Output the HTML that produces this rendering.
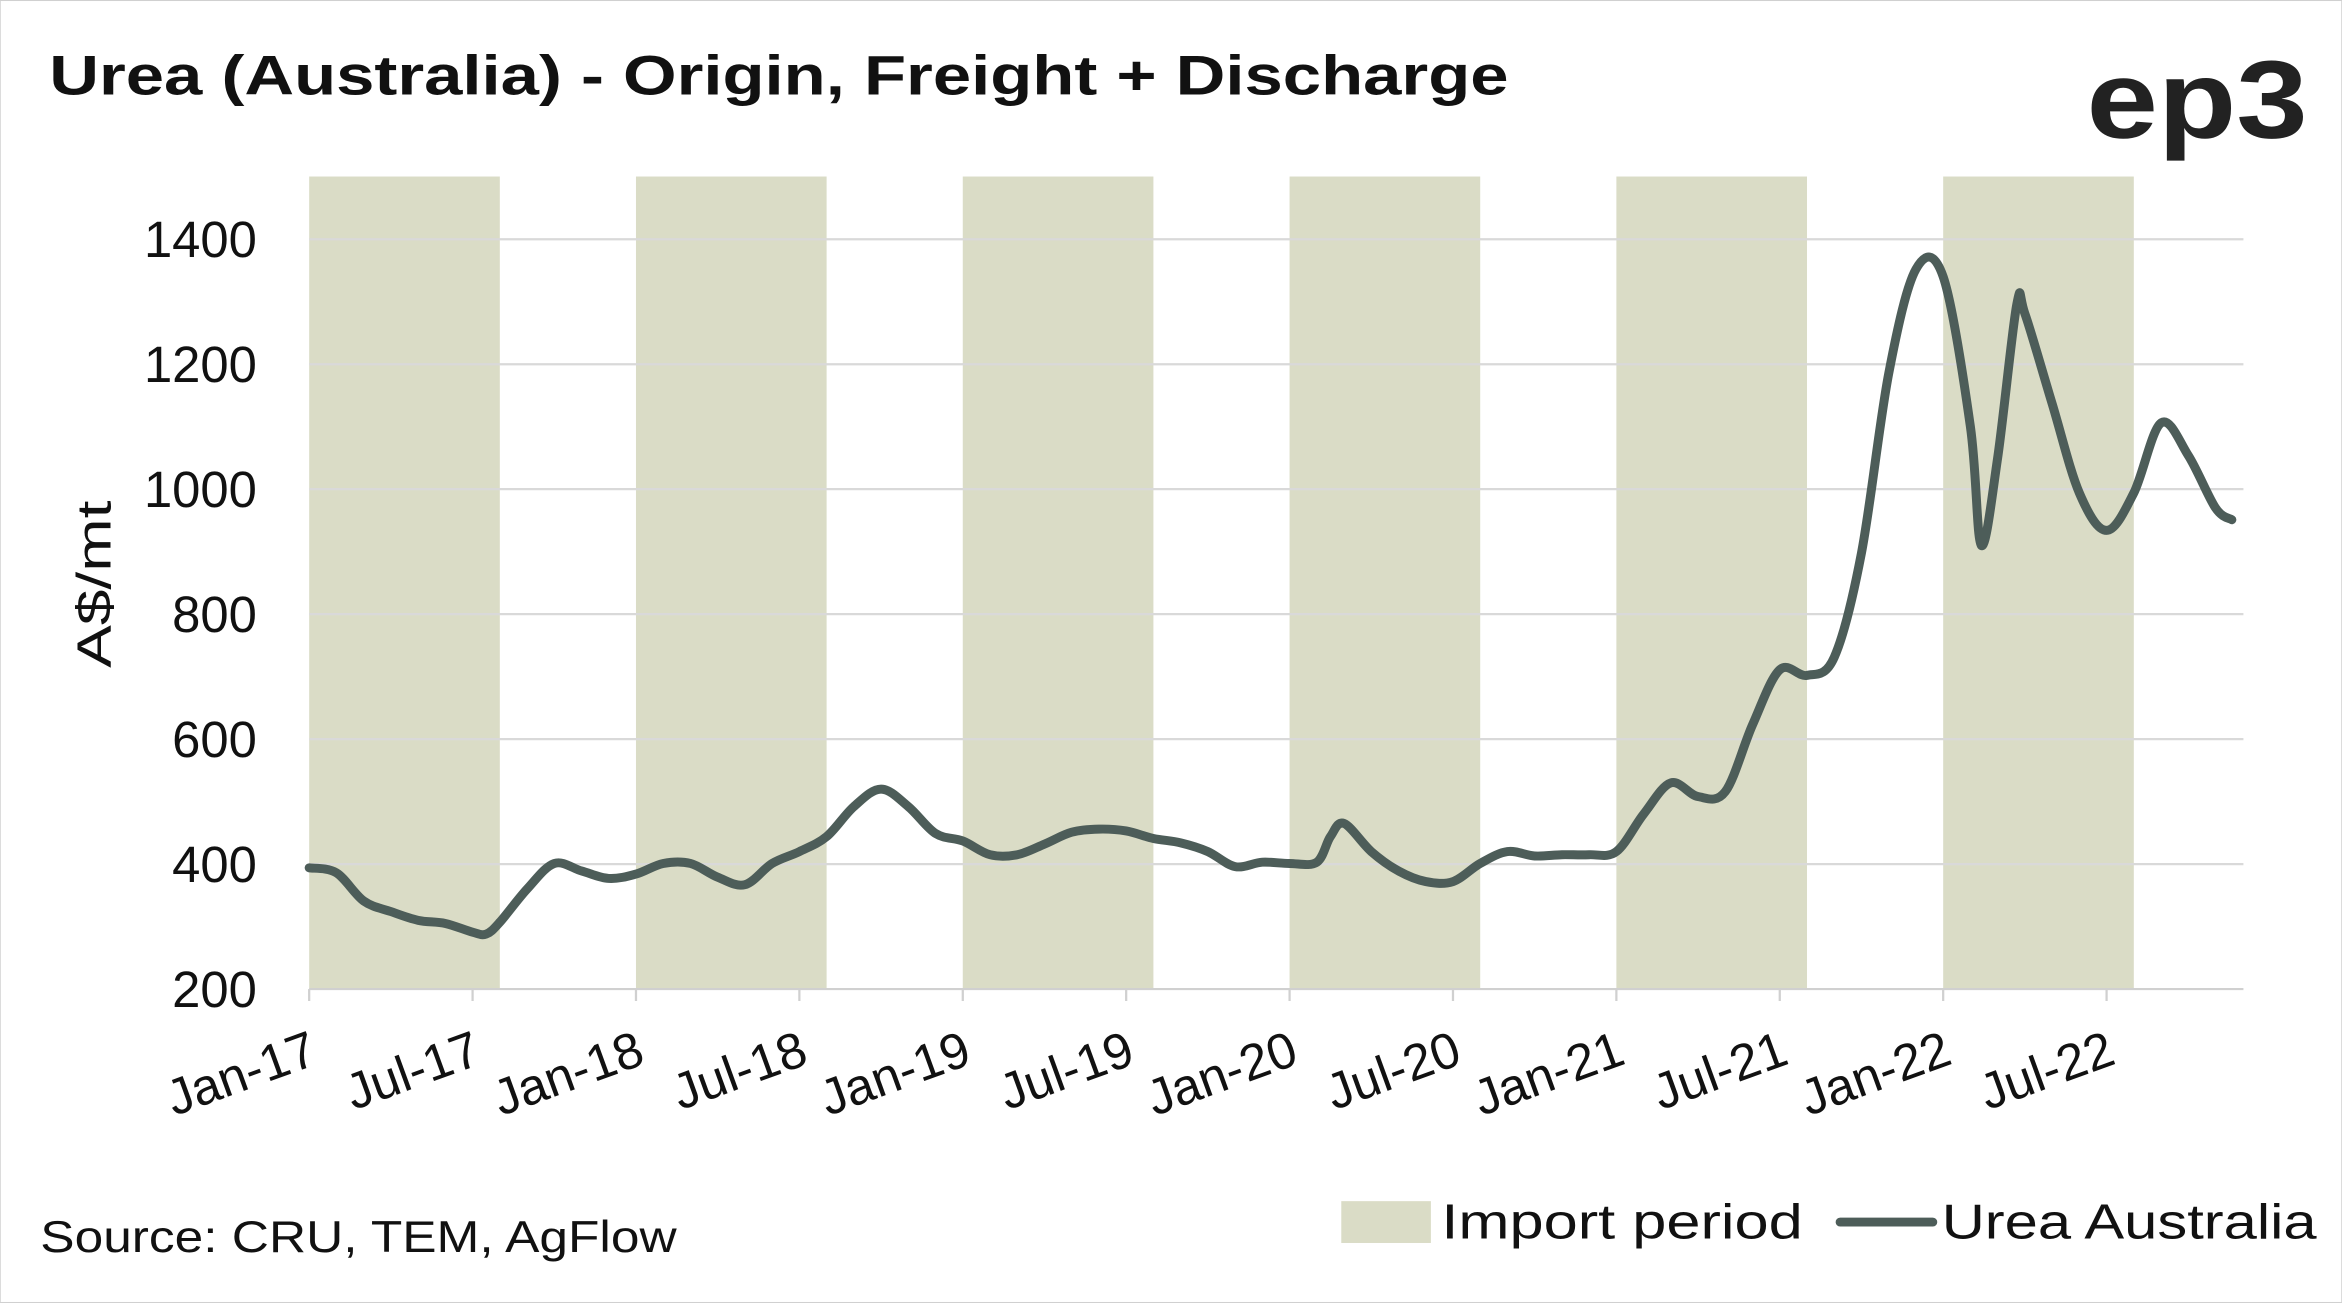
<!DOCTYPE html>
<html><head><meta charset="utf-8"><style>
html,body{margin:0;padding:0;background:#fff;}
svg{display:block;font-family:"Liberation Sans",sans-serif;}
</style></head><body>
<svg id="chart" width="2342" height="1303" viewBox="0 0 1568 872" xmlns="http://www.w3.org/2000/svg">
<rect x="0" y="0" width="1568" height="872" fill="#fff" stroke="#d0d0d0" stroke-width="1"/>
<text x="33" y="63" font-size="37" font-weight="bold" fill="#111" textLength="977" lengthAdjust="spacingAndGlyphs">Urea (Australia) - Origin, Freight + Discharge</text>
<text x="1397" y="92" font-size="74" font-weight="bold" fill="#222" textLength="148" lengthAdjust="spacingAndGlyphs">ep3</text>
<g id="bands"></g>
<g id="grid"></g>
<g id="xlabels"></g>
<path id="line" fill="none" stroke="#4d5d59" stroke-width="6" stroke-linejoin="round" stroke-linecap="round"/>
<text transform="translate(74,391) rotate(-90)" font-size="32" text-anchor="middle" fill="#111" textLength="112" lengthAdjust="spacingAndGlyphs">A$/mt</text>
<text x="27" y="838" font-size="30" fill="#111" textLength="426" lengthAdjust="spacingAndGlyphs">Source: CRU, TEM, AgFlow</text>
<rect x="898" y="804" width="60" height="28" fill="#dadcc6"/>
<text x="965" y="829" font-size="33" fill="#111" textLength="242" lengthAdjust="spacingAndGlyphs">Import period</text>
<line x1="1232" y1="818" x2="1294" y2="818" stroke="#4d5d59" stroke-width="6" stroke-linecap="round"/>
<text x="1300" y="829" font-size="33" fill="#111" textLength="251" lengthAdjust="spacingAndGlyphs">Urea Australia</text>
</svg>
<script>
const yTicks=[200,400,600,800,1000,1200,1400];
const xTickLabels=["Jan-17","Jul-17","Jan-18","Jul-18","Jan-19","Jul-19","Jan-20","Jul-20","Jan-21","Jul-21","Jan-22","Jul-22"];
const bandStarts=[0,12,24,36,48,60];
const bandLength=7;
const months=[0,1,2,3,4,5,6,6.5,7,8,9,10,11,12,13,14,15,16,17,18,19,20,21,22,23,24,25,26,27,28,29,30,31,32,33,34,35,36,37,37.5,38,39,40,41,42,43,44,45,46,47,48,49,50,51,52,53,54,55,56,57,58,59,60,61,61.4,62,62.7,63,64,65,66,67,68,69,70,70.6];
const values=[394,386,341,324,310,305,291,288,307,360,401,389,377,384,401,401,379,367,401,420,444,492,520,492,449,437,415,415,432,451,456,453,441,434,420,396,403,401,403,444,465,420,389,372,372,401,420,413,415,415,420,480,530,508,516,623,711,702,731,898,1185,1352,1340,1100,910,1050,1295,1281,1137,994,934,994,1106,1054,970,951];
const NS="http://www.w3.org/2000/svg";
const x0=207,pxPerMonth=18.233,yBase=662,pxPer=83.67/200;
const X=m=>x0+m*pxPerMonth;
const Y=v=>yBase-(v-200)*pxPer;
const bands=document.getElementById('bands');
bandStarts.forEach((b,i)=>{
  const r=document.createElementNS(NS,'rect');
  r.setAttribute('x',X(b));r.setAttribute('y',118);
  r.setAttribute('width',bandLength*pxPerMonth);r.setAttribute('height',yBase-118);
  r.setAttribute('fill','#dadcc6');
  
  
  bands.appendChild(r);
});
const grid=document.getElementById('grid');
yTicks.forEach(t=>{
  if(t>200){
    const l=document.createElementNS(NS,'line');
    l.setAttribute('x1',207);l.setAttribute('x2',1502);l.setAttribute('y1',Y(t));l.setAttribute('y2',Y(t));
    l.setAttribute('stroke','#d9d9d9');l.setAttribute('stroke-width','1.5');
    
    
    grid.appendChild(l);
  }
  const tx=document.createElementNS(NS,'text');
  tx.setAttribute('x',172);tx.setAttribute('y',Y(t)+12);
  tx.setAttribute('font-size','34');tx.setAttribute('text-anchor','end');tx.setAttribute('fill','#111');
  tx.textContent=t;
  
  
  grid.appendChild(tx);
});
const ax=document.createElementNS(NS,'line');
ax.setAttribute('x1',207);ax.setAttribute('x2',1502);ax.setAttribute('y1',yBase);ax.setAttribute('y2',yBase);
ax.setAttribute('stroke','#d0d0d0');ax.setAttribute('stroke-width','1.5');


grid.appendChild(ax);
const xl=document.getElementById('xlabels');
xTickLabels.forEach((lab,i)=>{
  const m=i*6;
  const tk=document.createElementNS(NS,'line');
  tk.setAttribute('x1',X(m));tk.setAttribute('x2',X(m));tk.setAttribute('y1',yBase);tk.setAttribute('y2',yBase+8);
  tk.setAttribute('stroke','#d0d0d0');tk.setAttribute('stroke-width','1.5');
  
  
  xl.appendChild(tk);
  const t=document.createElementNS(NS,'text');
  t.setAttribute('transform',`translate(${X(m)-2},${yBase+24}) rotate(-20)`);
  t.setAttribute('font-size','34');t.setAttribute('text-anchor','end');t.setAttribute('fill','#111');
  t.setAttribute('dy','0.8em');
  t.textContent=lab;
  
  
  xl.appendChild(t);
});
const pts=months.map((m,i)=>[X(m),Y(values[i])]);
let d=`M${pts[0][0]},${pts[0][1]}`;
for(let i=0;i<pts.length-1;i++){
  const p0=pts[i-1]||pts[i],p1=pts[i],p2=pts[i+1],p3=pts[i+2]||p2;
  const k=1/6;
  d+=` C${p1[0]+(p2[0]-p0[0])*k},${p1[1]+(p2[1]-p0[1])*k} ${p2[0]-(p3[0]-p1[0])*k},${p2[1]-(p3[1]-p1[1])*k} ${p2[0]},${p2[1]}`;
}
document.getElementById('line').setAttribute('d',d);
</script>
</body></html>
